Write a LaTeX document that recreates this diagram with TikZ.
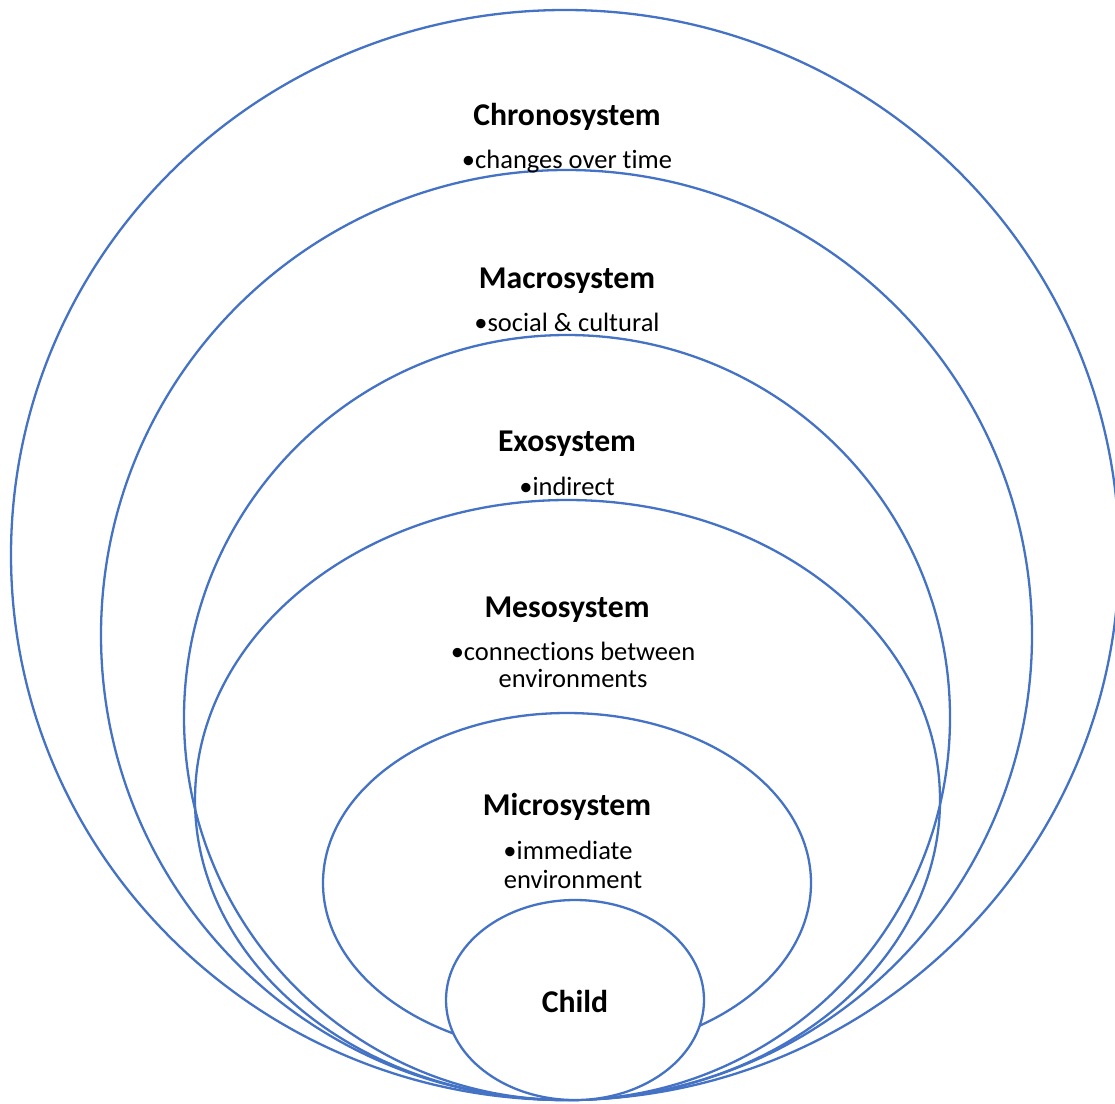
\documentclass[tikz,border=0pt]{standalone}
\usepackage{fontspec}
\setmainfont{Carlito}[Ligatures={NoCommon}]
\definecolor{ringblue}{HTML}{4472C4}
\tikzset{
  ring/.style={draw=ringblue, line width=2.3pt},
  title/.style={font=\fontsize{31.7}{36}\selectfont\bfseries, anchor=base, inner sep=0pt},
  note/.style={font=\fontsize{26.5}{28}\selectfont, anchor=base, inner sep=0pt}
}
\begin{document}
\begin{tikzpicture}[x=1pt,y=-1pt]
  \useasboundingbox (0,0) rectangle (1115,1103);
  \clip (0,0) rectangle (1115,1103);
  % nested systems, all resting on the same bottom point
  \draw[ring] (565,555)   ellipse [x radius=554pt,   y radius=545pt];   % chrono
  \draw[ring] (566.5,635) ellipse [x radius=465.5pt, y radius=465pt];   % macro
  \draw[ring] (567,717.5) ellipse [x radius=383pt,   y radius=382.5pt]; % exo
  \draw[ring] (567.5,800) ellipse [x radius=372.5pt, y radius=300pt];   % meso
  \draw[ring] (567,883)   ellipse [x radius=244pt,   y radius=170pt];   % micro
  \draw[ring, fill=white] (575,1000) ellipse [x radius=129pt, y radius=100pt]; % child

  % labels
  \node[title] (chronoT) at (567,125) {Chronosystem};
  \node[note]  (chronoN) at (567,168) {•changes over time};
  \node[title] (macroT)  at (567,288) {Macrosystem};
  \node[note]  (macroN)  at (567,331) {•social \& cultural};
  \node[title] (exoT)    at (567,451) {Exosystem};
  \node[note]  (exoN)    at (567,495) {•indirect};
  \node[title] (mesoT)   at (567,617) {Mesosystem};
  \node[note]  (mesoN1)  at (573,660) {•connections between};
  \node[note]  (mesoN2)  at (573,687) {environments};
  \node[title] (microT)  at (567,815) {Microsystem};
  \node[note]  (microN1) at (568,859) {•immediate};
  \node[note]  (microN2) at (573,888) {environment};
  \node[title] (childT)  at (575,1012) {Child};
\end{tikzpicture}
\end{document}
